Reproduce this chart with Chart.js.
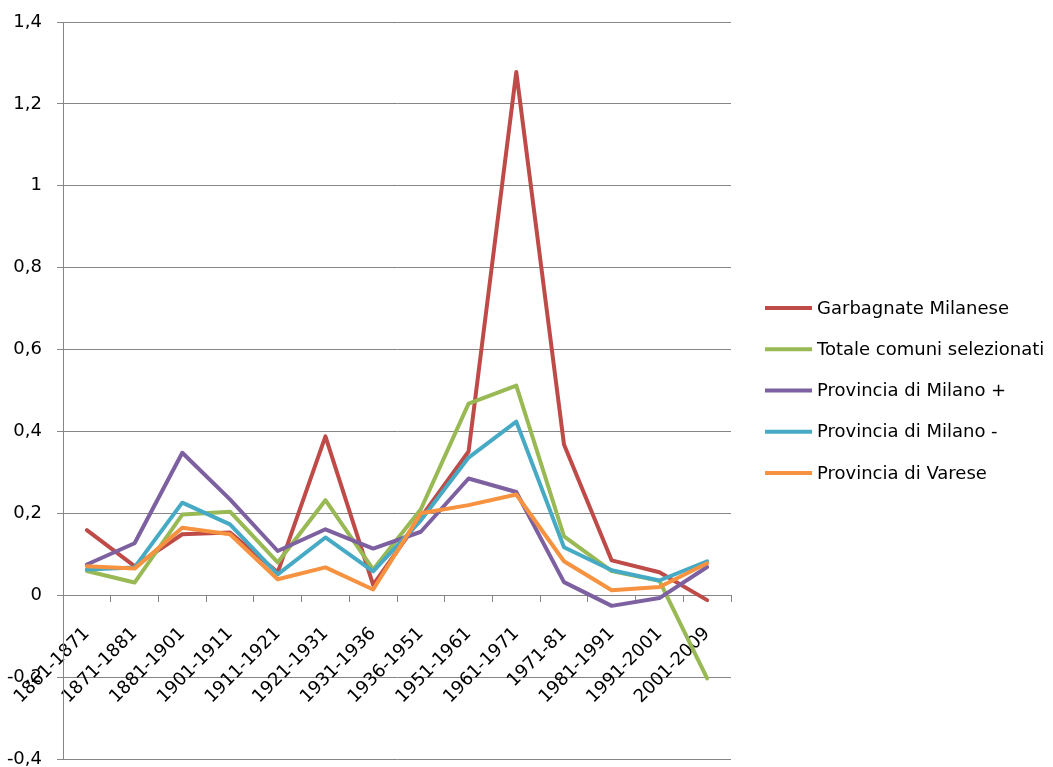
<!DOCTYPE html>
<html>
<head>
<meta charset="utf-8">
<script src="https://cdn.jsdelivr.net/npm/chart.js@4"></script>
<style>
  html, body { margin: 0; padding: 0; background: #ffffff; }
  #wrap { width: 1053px; height: 767px; }
</style>
</head>
<body>
<div id="wrap"><canvas id="c" width="1053" height="767"></canvas></div>
<script>
// Intercensal periods
const categories = ['1861-1871', '1871-1881', '1881-1901', '1901-1911', '1911-1921', '1921-1931',
  '1931-1936', '1936-1951', '1951-1961', '1961-1971', '1971-81', '1981-1991', '1991-2001', '2001-2009'];

// Population growth rate per period
const garbagnate = [0.159, 0.071, 0.149, 0.153, 0.056, 0.388, 0.025, 0.19, 0.351, 1.278, 0.368, 0.085, 0.056, -0.012];
const totaleComuni = [0.059, 0.031, 0.197, 0.204, 0.08, 0.232, 0.063, 0.21, 0.468, 0.512, 0.144, 0.059, 0.035, -0.203];
const milanoPiu = [0.075, 0.127, 0.348, 0.234, 0.108, 0.161, 0.114, 0.155, 0.285, 0.252, 0.032, -0.026, -0.007, 0.069];
const milanoMeno = [0.063, 0.068, 0.226, 0.173, 0.051, 0.141, 0.058, 0.183, 0.336, 0.424, 0.117, 0.061, 0.036, 0.083];
const varese = [0.071, 0.065, 0.165, 0.149, 0.039, 0.068, 0.014, 0.2, 0.22, 0.246, 0.083, 0.012, 0.02, 0.078];

const seriesNames = ['Garbagnate Milanese', 'Totale comuni selezionati', 'Provincia di Milano +',
  'Provincia di Milano -', 'Provincia di Varese'];

// Y axis range and step
const yMin = -0.4;
const yMax = 1.4;
const yStep = 0.2;

const colors = ['#BE4B48', '#98B954', '#7D60A0', '#46AAC5', '#F69240'];
const allSeries = [garbagnate, totaleComuni, milanoPiu, milanoMeno, varese];

const gridColor = '#868686';
const FONT = "'DejaVu Sans', sans-serif";

const datasets = allSeries.map((values, i) => ({
  label: seriesNames[i],
  data: values,
  borderColor: colors[i],
  backgroundColor: colors[i],
  borderWidth: 4,
  borderJoinStyle: 'round',
  borderCapStyle: 'round',
  pointRadius: 0,
  pointHoverRadius: 0,
  tension: 0,
  fill: false,
  // later series are painted over earlier ones
  order: allSeries.length - i
}));

// Legend column to the right of the plot: a short line swatch and the series name
const sideLegend = {
  id: 'sideLegend',
  afterDraw(chart) {
    const ctx = chart.ctx;
    const left = chart.chartArea.right + 34;
    const swatch = 47;
    const step = 41.25;
    const count = chart.data.datasets.length;
    const midY = 390.5;
    const y0 = midY - step * (count - 1) / 2;
    ctx.save();
    ctx.font = '18px ' + FONT;
    ctx.textBaseline = 'middle';
    ctx.textAlign = 'left';
    chart.data.datasets.forEach((ds, i) => {
      const y = y0 + i * step;
      ctx.fillStyle = ds.borderColor;
      ctx.fillRect(left, y - 2, swatch, 4);
      ctx.fillStyle = '#000000';
      ctx.fillText(ds.label, left + swatch + 5, y + 1);
    });
    ctx.restore();
  }
};

new Chart(document.getElementById('c'), {
  type: 'line',
  data: { labels: categories, datasets },
  plugins: [sideLegend],
  options: {
    responsive: false,
    animation: false,
    events: [],
    layout: { padding: { top: 22, right: 322, bottom: 0, left: 7 } },
    plugins: {
      tooltip: { enabled: false },
      legend: { display: false }
    },
    scales: {
      x: {
        type: 'category',
        position: { y: 0 },
        offset: true,
        grid: {
          display: true,
          offset: true,
          drawOnChartArea: false,
          drawTicks: true,
          tickLength: 6,
          color: gridColor
        },
        border: { display: true, color: gridColor },
        ticks: {
          autoSkip: false,
          minRotation: 45,
          maxRotation: 45,
          padding: 22,
          color: '#000000',
          font: { family: FONT, size: 18 }
        },
        afterFit(scale) {
          scale.paddingLeft = 0;
          scale.paddingRight = 0;
          scale.paddingTop = 0;
          scale.paddingBottom = 0;
        }
      },
      y: {
        min: yMin,
        max: yMax,
        grid: { color: gridColor, tickLength: 6 },
        border: { display: true, color: gridColor },
        ticks: {
          stepSize: yStep,
          padding: 15,
          color: '#000000',
          font: { family: FONT, size: 18 },
          callback: v => String(Math.round(v * 10) / 10).replace('.', ',')
        },
        afterFit(scale) {
          scale.width = 56;
          scale.paddingTop = 0;
          scale.paddingBottom = 8;
        }
      }
    }
  }
});
</script>
</body>
</html>
